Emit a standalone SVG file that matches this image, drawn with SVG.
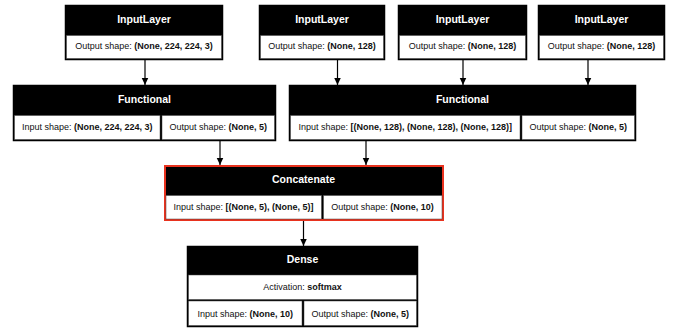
<svg xmlns="http://www.w3.org/2000/svg" width="673" height="329" viewBox="0 0 673 329">
  <style>
    .frame { fill: #000; stroke: #000; stroke-width: 1.5; }
    .frame-hl { fill: #000; stroke: #e8321e; stroke-width: 2; }
    .cell { fill: #fff; stroke: #444; stroke-width: 0.5; }
    .title { font-family: "Liberation Sans", Arial, sans-serif; font-size: 10.5px; font-weight: bold; fill: #fff; text-anchor: middle; }
    .lbl { font-family: "Liberation Sans", Arial, sans-serif; font-size: 9px; fill: #111; text-anchor: middle; }
    .lbl tspan.v { font-weight: bold; }
    .edge { stroke: #000; stroke-width: 1.2; fill: none; }
  </style>
  <defs>
    <marker id="arrow" markerUnits="userSpaceOnUse" markerWidth="8" markerHeight="8" refX="7.5" refY="3.5" orient="auto">
      <path d="M0,0 L7.5,3.5 L0,7 z" fill="#000"/>
    </marker>
  </defs>
  <rect width="673" height="329" fill="#fff"/>

  <!-- connectors -->
  <g id="edges">
    <line class="edge" x1="145" y1="60" x2="145" y2="85" marker-end="url(#arrow)"/>
    <line class="edge" x1="337.5" y1="60" x2="337.5" y2="85" marker-end="url(#arrow)"/>
    <line class="edge" x1="463" y1="60" x2="463" y2="85" marker-end="url(#arrow)"/>
    <line class="edge" x1="588" y1="60" x2="588" y2="85" marker-end="url(#arrow)"/>
    <line class="edge" x1="220" y1="141" x2="220" y2="165" marker-end="url(#arrow)"/>
    <line class="edge" x1="366" y1="141" x2="366" y2="165" marker-end="url(#arrow)"/>
    <line class="edge" x1="303.5" y1="221" x2="303.5" y2="246" marker-end="url(#arrow)"/>
  </g>

  <!-- input layers -->
  <g id="input_1">
    <rect class="frame" x="65.5" y="5.5" width="157" height="54"/>
    <rect class="cell" x="66.5" y="35.5" width="155" height="23"/>
    <text class="title" x="144" y="22.5">InputLayer</text>
    <text class="lbl" x="144" y="49">Output shape: <tspan class="v">(None, 224, 224, 3)</tspan></text>
  </g>
  <g id="input_2">
    <rect class="frame" x="259.5" y="5.5" width="125" height="54"/>
    <rect class="cell" x="260.5" y="35.5" width="123" height="23"/>
    <text class="title" x="322" y="22.5">InputLayer</text>
    <text class="lbl" x="322" y="49">Output shape: <tspan class="v">(None, 128)</tspan></text>
  </g>
  <g id="input_3">
    <rect class="frame" x="398.5" y="5.5" width="128" height="54"/>
    <rect class="cell" x="399.5" y="35.5" width="126" height="23"/>
    <text class="title" x="462.5" y="22.5">InputLayer</text>
    <text class="lbl" x="462.5" y="49">Output shape: <tspan class="v">(None, 128)</tspan></text>
  </g>
  <g id="input_4">
    <rect class="frame" x="538.5" y="5.5" width="126" height="54"/>
    <rect class="cell" x="539.5" y="35.5" width="124" height="23"/>
    <text class="title" x="601.5" y="22.5">InputLayer</text>
    <text class="lbl" x="601.5" y="49">Output shape: <tspan class="v">(None, 128)</tspan></text>
  </g>

  <!-- functional blocks -->
  <g id="functional_1">
    <rect class="frame" x="13.5" y="85.5" width="262" height="55"/>
    <rect class="cell" x="14.5" y="115.5" width="145.5" height="24"/>
    <rect class="cell" x="162" y="115.5" width="112.5" height="24"/>
    <text class="title" x="144.5" y="102.5">Functional</text>
    <text class="lbl" x="87.3" y="129.5">Input shape: <tspan class="v">(None, 224, 224, 3)</tspan></text>
    <text class="lbl" x="218.3" y="129.5">Output shape: <tspan class="v">(None, 5)</tspan></text>
  </g>
  <g id="functional_2">
    <rect class="frame" x="289.5" y="85.5" width="346" height="55"/>
    <rect class="cell" x="290.5" y="115.5" width="229.5" height="24"/>
    <rect class="cell" x="522" y="115.5" width="112.5" height="24"/>
    <text class="title" x="462.5" y="102.5">Functional</text>
    <text class="lbl" x="405.3" y="129.5">Input shape: <tspan class="v">[(None, 128), (None, 128), (None, 128)]</tspan></text>
    <text class="lbl" x="578.3" y="129.5">Output shape: <tspan class="v">(None, 5)</tspan></text>
  </g>

  <!-- merge -->
  <g id="concatenate">
    <rect class="frame-hl" x="165" y="166" width="278" height="54"/>
    <rect class="cell" x="166" y="195.5" width="155.5" height="23.5"/>
    <rect class="cell" x="323.5" y="195.5" width="118.5" height="23.5"/>
    <text class="title" x="303.5" y="183">Concatenate</text>
    <text class="lbl" x="243.5" y="210">Input shape: <tspan class="v">[(None, 5), (None, 5)]</tspan></text>
    <text class="lbl" x="382.5" y="210">Output shape: <tspan class="v">(None, 10)</tspan></text>
  </g>

  <!-- output layer -->
  <g id="dense">
    <rect class="frame" x="187.5" y="246.5" width="230" height="80"/>
    <rect class="cell" x="188.5" y="275" width="228" height="24.5"/>
    <rect class="cell" x="188.5" y="301" width="113.5" height="24.5"/>
    <rect class="cell" x="304" y="301" width="112.5" height="24.5"/>
    <text class="title" x="302.5" y="263">Dense</text>
    <text class="lbl" x="302.5" y="290">Activation: <tspan class="v">softmax</tspan></text>
    <text class="lbl" x="245.3" y="316.5">Input shape: <tspan class="v">(None, 10)</tspan></text>
    <text class="lbl" x="360.2" y="316.5">Output shape: <tspan class="v">(None, 5)</tspan></text>
  </g>
</svg>
